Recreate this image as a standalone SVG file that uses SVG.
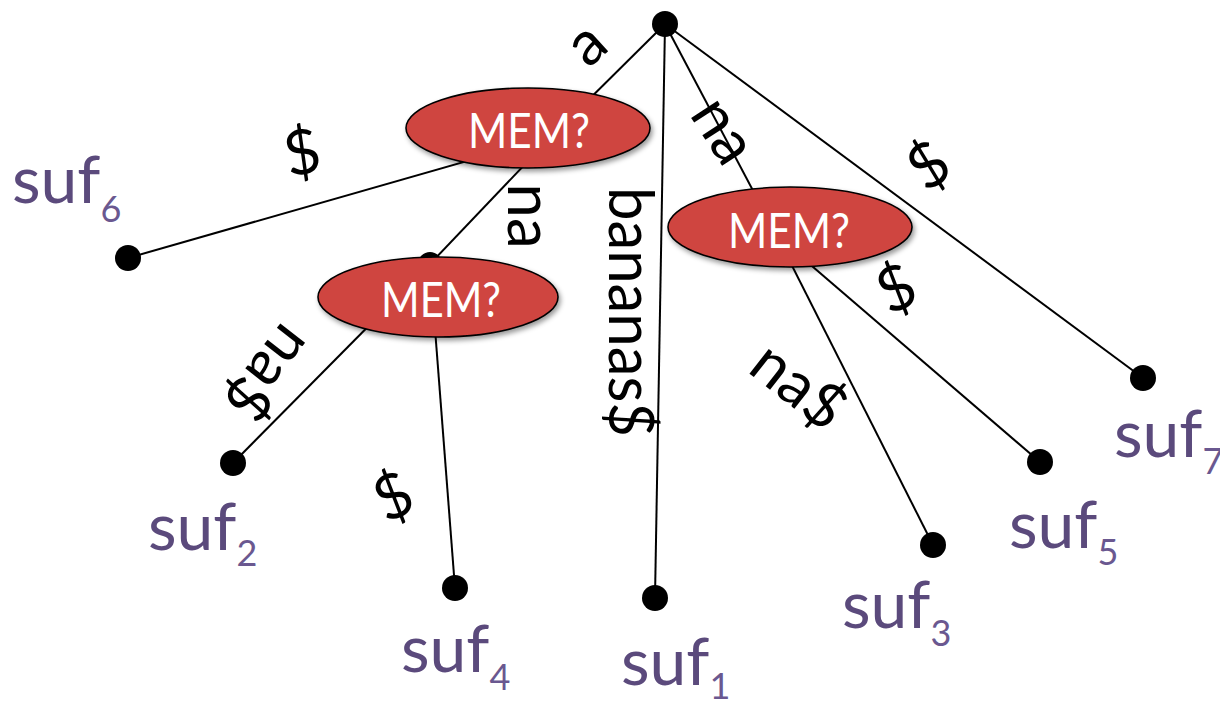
<svg xmlns="http://www.w3.org/2000/svg" width="1220" height="706" viewBox="0 0 1220 706">
  <defs>
    <style>
      .edge { stroke: #000; stroke-width: 2; fill: none; }
      .dot { fill: #000; }
      .mem { fill: #cf4440; stroke: #000; stroke-width: 1.6; filter: url(#shadow); }
      .memt { font-family: Lato, "Open Sans", "Liberation Sans", sans-serif; font-size: 49px; fill: #fff; text-anchor: middle; }
      .lbl { font-family: Lato, "Open Sans", "Liberation Sans", sans-serif; font-size: 62px; fill: #000; text-anchor: middle; }
      .suf { font-family: Lato, "Open Sans", "Liberation Sans", sans-serif; font-size: 66px; fill: #5b4a7c; }
      .sub { font-size: 36px; fill: #6a5890; }
    </style>
    <filter id="shadow" x="-20%" y="-30%" width="140%" height="170%">
      <feDropShadow dx="2" dy="3" stdDeviation="2.5" flood-color="#000" flood-opacity="0.4"/>
    </filter>
  </defs>
  <rect width="1220" height="706" fill="#fff"/>

  <g id="connectors">
    <line class="edge" x1="665" y1="24" x2="551" y2="137"/>
    <line class="edge" x1="551" y1="137" x2="128" y2="258"/>
    <line class="edge" x1="551" y1="137" x2="430" y2="264"/>
    <line class="edge" x1="430" y1="264" x2="233" y2="463"/>
    <line class="edge" x1="430" y1="264" x2="455" y2="588"/>
    <line class="edge" x1="665" y1="24" x2="655" y2="598"/>
    <line class="edge" x1="665" y1="24" x2="777" y2="236"/>
    <line class="edge" x1="777" y1="236" x2="933" y2="545"/>
    <line class="edge" x1="777" y1="236" x2="1040" y2="462"/>
    <line class="edge" x1="665" y1="24" x2="1143" y2="378"/>
  </g>

  <g id="edge-labels">
    <text class="lbl" transform="translate(589,47) rotate(-42)" y="16">a</text>
    <text class="lbl" transform="translate(302,152) rotate(-12)" y="22">$</text>
    <text class="lbl" transform="translate(508,216) rotate(90)" y="0">na</text>
    <text class="lbl" transform="translate(609,312) rotate(90)" y="0" textLength="250" lengthAdjust="spacingAndGlyphs">bananas$</text>
    <text class="lbl" transform="translate(720,133) rotate(57)" y="16">na</text>
    <text class="lbl" transform="translate(266,371) rotate(128)" y="18">na$</text>
    <text class="lbl" transform="translate(393,496) rotate(-25)" y="22">$</text>
    <text class="lbl" transform="translate(928,165) rotate(-35)" y="22">$</text>
    <text class="lbl" transform="translate(896,288) rotate(-25)" y="22">$</text>
    <text class="lbl" transform="translate(797,388) rotate(38)" y="18">na$</text>
  </g>

  <g id="root"><circle class="dot" cx="665" cy="24" r="13"/></g>

  <g id="nodeA">
    <circle class="dot" cx="551" cy="137" r="13"/>
    <ellipse class="mem" cx="528" cy="128" rx="122" ry="40"/>
    <text class="memt" x="529" y="148" textLength="122" lengthAdjust="spacingAndGlyphs">MEM?</text>
  </g>
  <g id="nodeB">
    <circle class="dot" cx="430" cy="264" r="12"/>
    <ellipse class="mem" cx="438" cy="297" rx="120" ry="40"/>
    <text class="memt" x="441" y="317" textLength="120" lengthAdjust="spacingAndGlyphs">MEM?</text>
  </g>
  <g id="nodeC">
    <circle class="dot" cx="777" cy="236" r="13"/>
    <ellipse class="mem" cx="790" cy="227" rx="122" ry="40"/>
    <text class="memt" x="789" y="248" textLength="122" lengthAdjust="spacingAndGlyphs">MEM?</text>
  </g>

  <g id="suf6">
    <circle class="dot" cx="128" cy="258" r="13"/>
    <text class="suf" x="12" y="203">suf<tspan class="sub" dy="19">6</tspan></text>
  </g>
  <g id="suf2">
    <circle class="dot" cx="233" cy="463" r="13"/>
    <text class="suf" x="148" y="550">suf<tspan class="sub" dy="16">2</tspan></text>
  </g>
  <g id="suf4">
    <circle class="dot" cx="455" cy="588" r="13"/>
    <text class="suf" x="401" y="672">suf<tspan class="sub" dy="18">4</tspan></text>
  </g>
  <g id="suf1">
    <circle class="dot" cx="655" cy="598" r="13"/>
    <text class="suf" x="621" y="685">suf<tspan class="sub" dy="14">1</tspan></text>
  </g>
  <g id="suf3">
    <circle class="dot" cx="933" cy="545" r="13"/>
    <text class="suf" x="842" y="628">suf<tspan class="sub" dy="18">3</tspan></text>
  </g>
  <g id="suf5">
    <circle class="dot" cx="1040" cy="462" r="13"/>
    <text class="suf" x="1009" y="548">suf<tspan class="sub" dy="17">5</tspan></text>
  </g>
  <g id="suf7">
    <circle class="dot" cx="1143" cy="378" r="13"/>
    <text class="suf" x="1114" y="457">suf<tspan class="sub" dy="17">7</tspan></text>
  </g>
</svg>
